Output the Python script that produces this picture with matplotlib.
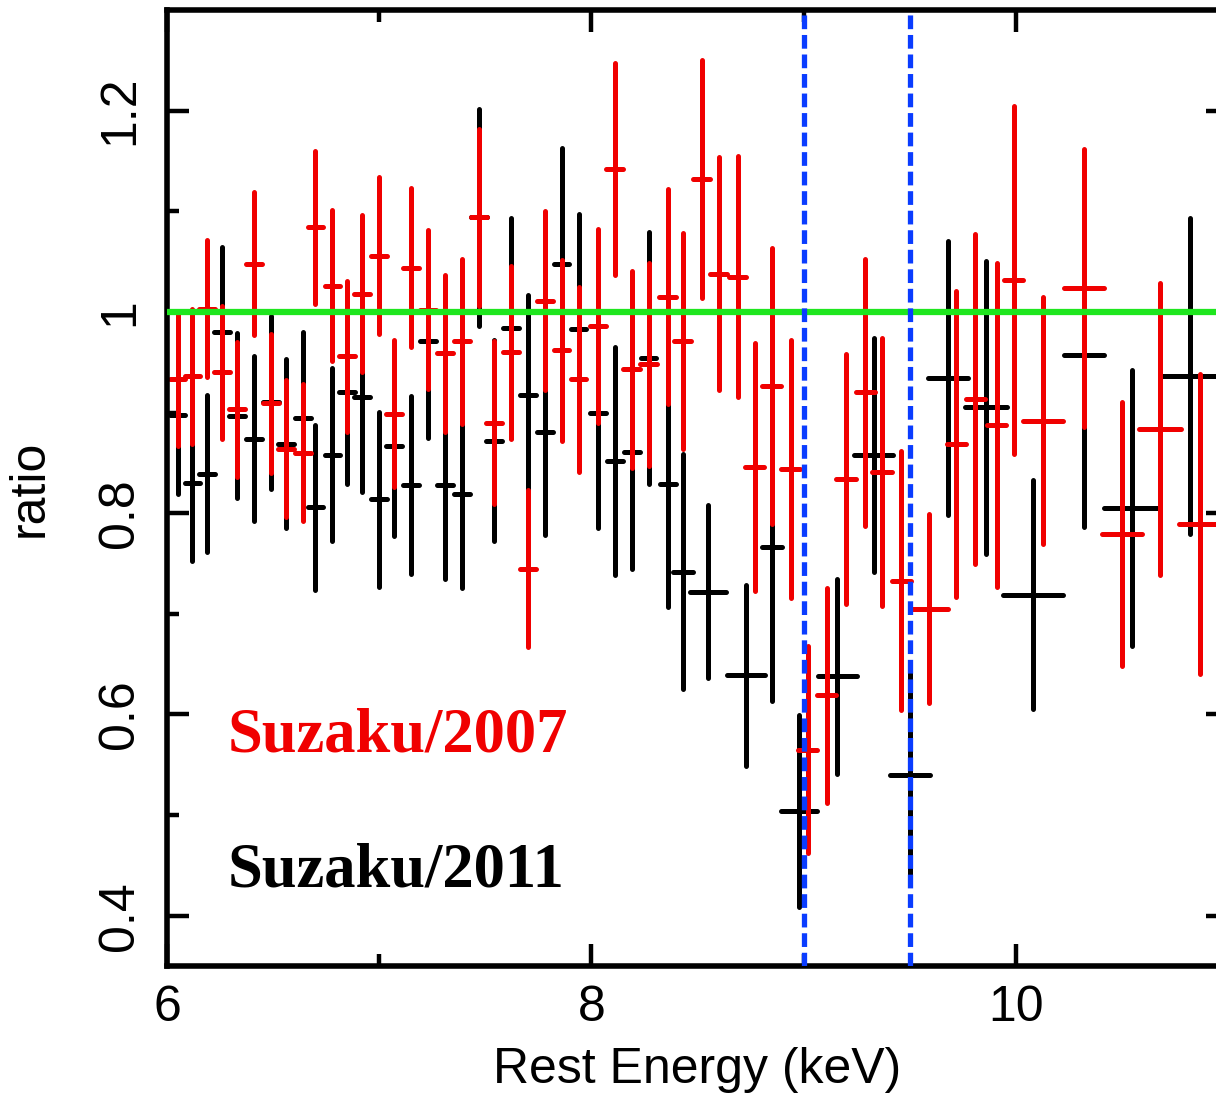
"""
Spectral ratio plot for the two Suzaku epochs around the Fe K band,
with the absorption window marked by two dashed lines.
"""

import matplotlib
matplotlib.use("Agg")
import matplotlib.pyplot as plt
from matplotlib.ticker import FixedLocator, FuncFormatter


# =========================================================
# Data (rest energy in keV, data/model ratio, 1-sigma errors)
# =========================================================

RED_ENERGY = [6.05, 6.12, 6.19, 6.26, 6.33, 6.41, 6.49, 6.56, 6.64, 6.70,
              6.78, 6.85, 6.92, 7.00, 7.07, 7.15, 7.23, 7.31, 7.39, 7.47,
              7.54, 7.62, 7.70, 7.78, 7.86, 7.94, 8.03, 8.11, 8.19, 8.27,
              8.36, 8.43, 8.52, 8.60, 8.69, 8.77, 8.85, 8.94, 9.02, 9.11,
              9.20, 9.29, 9.37, 9.46, 9.59, 9.72, 9.81, 9.91, 9.99, 10.13,
              10.32, 10.50, 10.68, 10.87]

RED_RATIO = [0.933, 0.936, 1.003, 0.940, 0.903, 1.048, 0.909, 0.864, 0.860, 1.084,
             1.026, 0.956, 1.018, 1.056, 0.899, 1.044, 1.002, 0.959, 0.971, 1.094,
             0.890, 0.960, 0.745, 1.011, 0.962, 0.933, 0.986, 1.142, 0.943, 0.948,
             1.015, 0.971, 1.132, 1.038, 1.035, 0.846, 0.926, 0.844, 0.565, 0.619,
             0.834, 0.920, 0.841, 0.733, 0.705, 0.869, 0.913, 0.888, 1.032, 0.892,
             1.024, 0.779, 0.884, 0.789]

RED_ERR = [0.066, 0.067, 0.068, 0.066, 0.067, 0.071, 0.069, 0.068, 0.068, 0.076,
           0.075, 0.075, 0.078, 0.078, 0.073, 0.079, 0.079, 0.078, 0.082, 0.088,
           0.081, 0.086, 0.078, 0.089, 0.090, 0.092, 0.096, 0.105, 0.098, 0.101,
           0.107, 0.107, 0.118, 0.116, 0.120, 0.123, 0.137, 0.128, 0.103, 0.107,
           0.124, 0.133, 0.133, 0.129, 0.094, 0.152, 0.164, 0.161, 0.173, 0.123,
           0.138, 0.131, 0.145, 0.149]

RED_BIN = [0.037, 0.037, 0.037, 0.037, 0.037, 0.037, 0.037, 0.037, 0.037, 0.037,
           0.037, 0.037, 0.037, 0.037, 0.037, 0.037, 0.037, 0.037, 0.037, 0.037,
           0.037, 0.037, 0.037, 0.037, 0.037, 0.037, 0.037, 0.040, 0.040, 0.040,
           0.040, 0.040, 0.040, 0.040, 0.040, 0.045, 0.045, 0.045, 0.045, 0.045,
           0.045, 0.045, 0.045, 0.045, 0.090, 0.045, 0.045, 0.045, 0.045, 0.094,
           0.094, 0.094, 0.099, 0.099]

BLACK_ENERGY = [6.05, 6.12, 6.19, 6.26, 6.33, 6.41, 6.49, 6.56, 6.64, 6.70,
                6.78, 6.85, 6.92, 7.00, 7.07, 7.15, 7.23, 7.31, 7.39, 7.47,
                7.54, 7.62, 7.70, 7.78, 7.86, 7.94, 8.03, 8.11, 8.19, 8.27,
                8.36, 8.43, 8.55, 8.73, 8.85, 8.98, 9.16, 9.33, 9.50, 9.68,
                9.86, 10.08, 10.32, 10.55, 10.82]

BLACK_RATIO = [0.898, 0.830, 0.839, 0.980, 0.897, 0.874, 0.910, 0.869, 0.895, 0.806,
               0.858, 0.920, 0.915, 0.814, 0.867, 0.828, 0.971, 0.828, 0.819, 1.094,
               0.872, 0.984, 0.917, 0.881, 1.048, 0.983, 0.900, 0.852, 0.861, 0.954,
               0.829, 0.742, 0.722, 0.639, 0.766, 0.504, 0.638, 0.858, 0.540, 0.934,
               0.905, 0.719, 0.957, 0.805, 0.936]

BLACK_ERR = [0.079, 0.078, 0.078, 0.084, 0.082, 0.082, 0.086, 0.084, 0.085, 0.082,
             0.086, 0.091, 0.094, 0.087, 0.090, 0.088, 0.096, 0.093, 0.093, 0.108,
             0.100, 0.109, 0.100, 0.103, 0.115, 0.114, 0.115, 0.113, 0.116, 0.125,
             0.122, 0.117, 0.086, 0.090, 0.153, 0.095, 0.097, 0.116, 0.101, 0.136,
             0.146, 0.114, 0.171, 0.137, 0.157]

BLACK_BIN = [0.037, 0.037, 0.037, 0.037, 0.037, 0.037, 0.037, 0.037, 0.037, 0.037,
             0.037, 0.037, 0.037, 0.037, 0.037, 0.037, 0.037, 0.037, 0.037, 0.037,
             0.037, 0.037, 0.037, 0.037, 0.037, 0.037, 0.037, 0.037, 0.037, 0.037,
             0.037, 0.047, 0.085, 0.090, 0.047, 0.085, 0.094, 0.090, 0.094, 0.094,
             0.099, 0.141, 0.094, 0.132, 0.132]

# edges of the absorption window (keV)
LINE_ENERGIES = [9.0, 9.5]

X_TICKS = [6, 8, 10]
Y_TICKS = [0.4, 0.6, 0.8, 1.0, 1.2]


# =========================================================
# Plot
# =========================================================

def draw_points(ax, x, y, yerr, xerr, color):

    bars = ax.errorbar(x, y, yerr=yerr, xerr=xerr, fmt="none",
                       ecolor=color, elinewidth=3.6, capsize=0)

    for lc in bars.lines[2]:
        lc.set_capstyle("round")


def main():

    plt.rcParams["font.family"] = ["Liberation Sans", "DejaVu Sans"]

    fig = plt.figure(figsize=(12.16, 10.96), dpi=100)
    ax = fig.add_axes([0.1373, 0.1186, 0.8725, 0.8723])

    draw_points(ax, BLACK_ENERGY, BLACK_RATIO, BLACK_ERR, BLACK_BIN, "black")
    draw_points(ax, RED_ENERGY, RED_RATIO, RED_ERR, RED_BIN, "#f00000")

    ax.axhline(1.0, color="#1ee61e", linewidth=4.5, zorder=5)

    for e in LINE_ENERGIES:
        ax.axvline(e, color="#0a3cff", linewidth=3.8,
                   linestyle=(0, (2.6, 1.1)), zorder=6)

    ax.set_xlim(6, 11)
    ax.set_ylim(0.35, 1.3)

    ax.xaxis.set_major_locator(FixedLocator(X_TICKS))
    ax.xaxis.set_minor_locator(FixedLocator([7, 9, 11]))
    ax.yaxis.set_major_locator(FixedLocator(Y_TICKS))
    ax.yaxis.set_minor_locator(FixedLocator([0.5, 0.7, 0.9, 1.1]))
    ax.yaxis.set_major_formatter(FuncFormatter(lambda v, p: "%g" % v))

    ax.tick_params(which="both", direction="in", top=True, right=True,
                   width=3.2, labelsize=36)
    ax.tick_params(which="major", length=16)
    ax.tick_params(which="minor", length=8.5)
    ax.tick_params(axis="x", pad=14)
    ax.tick_params(axis="y", pad=17)

    for lbl in ax.get_yticklabels():
        lbl.set_rotation(90)
        lbl.set_va("center")

    for side in ax.spines.values():
        side.set_linewidth(4)

    ax.set_xlabel("Rest Energy (keV)", fontsize=36, labelpad=11)
    ax.set_ylabel("ratio", fontsize=36, labelpad=32)

    ax.text(6.287, 0.563, "Suzaku/2007", color="#f00000", fontsize=45,
            fontweight="bold", family="Liberation Serif", va="baseline")
    ax.text(6.287, 0.429, "Suzaku/2011", color="black", fontsize=45,
            fontweight="bold", family="Liberation Serif", va="baseline")

    fig.savefig("out.png", dpi=100)
    plt.close(fig)


if __name__ == "__main__":

    main()
